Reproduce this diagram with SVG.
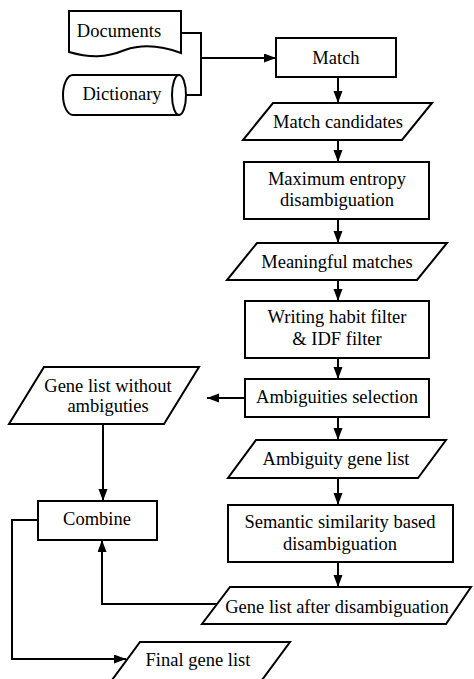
<svg xmlns="http://www.w3.org/2000/svg" width="474" height="679" viewBox="0 0 474 679">
<style>
.s{fill:#fff;stroke:#000;stroke-width:2}
.c{fill:none;stroke:#000;stroke-width:2}
text{font-size:18.5px;fill:#000;text-anchor:middle}
</style>
<defs>
<marker id="a" markerUnits="userSpaceOnUse" markerWidth="13" markerHeight="10" refX="12" refY="4.5" orient="auto">
<path d="M0,0 L12,4.5 L0,9 Z" fill="#000"/>
</marker>
</defs>
<rect width="474" height="679" fill="#fff"/>
<g id="connectors">
<path class="c" d="M181,33 H201 V95 H186"/>
<path class="c" d="M201,58 H276" marker-end="url(#a)"/>
<path class="c" d="M338,77 V103" marker-end="url(#a)"/>
<path class="c" d="M338,140 V162" marker-end="url(#a)"/>
<path class="c" d="M338,219 V243" marker-end="url(#a)"/>
<path class="c" d="M338,280 V301" marker-end="url(#a)"/>
<path class="c" d="M338,358 V379" marker-end="url(#a)"/>
<path class="c" d="M338,417 V440" marker-end="url(#a)"/>
<path class="c" d="M338,478 V505" marker-end="url(#a)"/>
<path class="c" d="M338,562 V587" marker-end="url(#a)"/>
<path class="c" d="M245,398 H207" marker-end="url(#a)"/>
<path class="c" d="M103,424 V501" marker-end="url(#a)"/>
<path class="c" d="M217,604 H102 V540" marker-end="url(#a)"/>
<path class="c" d="M38,520 H12 V659 H126" marker-end="url(#a)"/>
</g>
<g font-family="Liberation Serif, Times New Roman, serif">
<g id="documents">
<path class="s" d="M69,11 H181 V53 C165,47 145,43 125,50 C105,58 90,58 69,52 Z"/>
<text x="119" y="37">Documents</text>
</g>
<g id="dictionary">
<path class="s" d="M73,75 H179 V115 H73 A10,20 0 0 1 73,75 Z"/>
<ellipse class="s" cx="179" cy="95" rx="7" ry="20"/>
<text x="122" y="100">Dictionary</text>
</g>
<g id="match">
<rect class="s" x="276" y="38" width="120" height="39"/>
<text x="336" y="64">Match</text>
</g>
<g id="match-candidates">
<path class="s" d="M273,103 H432 L402,140 H243 Z"/>
<text x="338" y="128">Match candidates</text>
</g>
<g id="max-entropy">
<rect class="s" x="244" y="162" width="185" height="57"/>
<text x="337" y="185">Maximum entropy</text>
<text x="337" y="206">disambiguation</text>
</g>
<g id="meaningful-matches">
<path class="s" d="M257,243 H447 L417,280 H227 Z"/>
<text x="337" y="268">Meaningful matches</text>
</g>
<g id="writing-habit">
<rect class="s" x="245" y="301" width="184" height="57"/>
<text x="337" y="323">Writing habit filter</text>
<text x="337" y="345">&amp; IDF filter</text>
</g>
<g id="ambiguities-selection">
<rect class="s" x="245" y="379" width="184" height="38"/>
<text x="337" y="403">Ambiguities selection</text>
</g>
<g id="gene-list-without">
<path class="s" d="M44,367 H199 L164,424 H9 Z"/>
<text x="108" y="392">Gene list without</text>
<text x="108" y="412">ambiguties</text>
</g>
<g id="ambiguity-gene-list">
<path class="s" d="M256,440 H446 L418,478 H228 Z"/>
<text x="336" y="465">Ambiguity gene list</text>
</g>
<g id="semantic">
<rect class="s" x="228" y="505" width="225" height="57"/>
<text x="340" y="528">Semantic similarity based</text>
<text x="340" y="550">disambiguation</text>
</g>
<g id="gene-list-after">
<path class="s" d="M230,587 H471 L446,624 H202 Z"/>
<text x="337" y="613">Gene list after disambiguation</text>
</g>
<g id="combine">
<rect class="s" x="38" y="501" width="119" height="39"/>
<text x="97" y="525">Combine</text>
</g>
<g id="final-gene-list">
<path class="s" d="M140,642 H290 L262,680 H112 Z"/>
<text x="198" y="666">Final gene list</text>
</g>
</g>
</svg>
